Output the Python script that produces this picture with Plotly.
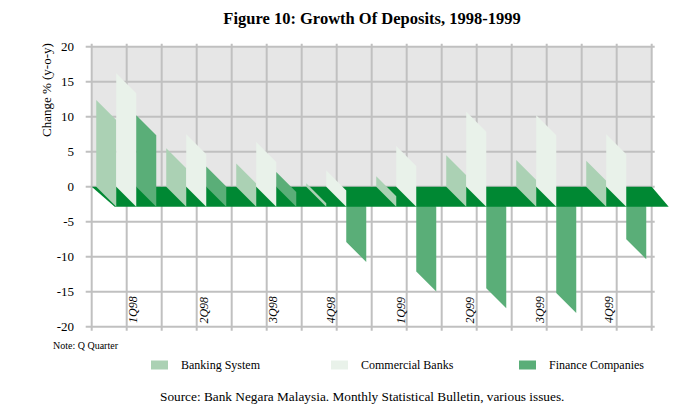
import plotly.graph_objects as go

# ---------------- data ----------------
quarters = ["1Q98", "2Q98", "3Q98", "4Q98", "1Q99", "2Q99", "3Q99", "4Q99"]
series_names = ["Banking System", "Commercial Banks", "Finance Companies"]
banking = [12.4, 5.5, 3.3, 0.5, 1.5, 4.5, 3.8, 3.7]
commercial = [16.2, 7.5, 6.4, 2.3, 5.8, 10.7, 10.2, 7.5]
finance = [10.2, 2.9, 2.1, -7.9, -12.1, -14.5, -15.2, -7.5]
y_ticks = [20, 15, 10, 5, 0, -5, -10, -15, -20]

# ---------------- style / geometry ----------------
colors = ["#abd1b4", "#e9f2ea", "#5aae78"]
floor_color = "#008833"
wall_color = "#e6e6e6"
grid_color = "#c0c0c0"
FONT = "Liberation Serif"

W, H = 690, 405
ML, MR, MT, MB = 80, 10, 40, 65
PW, PH = W - ML - MR, H - MT - MB
X0PX, XUNIT = 91.7, 35.0          # pixel of x=0, pixels per x unit (grid cell)
Y0PX, YUNIT = 186.7, 7.0          # pixel of y=0, pixels per y unit
xr = [(ML - X0PX) / XUNIT, (ML + PW - X0PX) / XUNIT]
yr = [(Y0PX - (MT + PH)) / YUNIT, (Y0PX - MT) / YUNIT]

n_cells = 2 * len(quarters)
bar_w = 20 / XUNIT                # bar width (x units)
depth = 20 / YUNIT                # oblique drop (y units)
group_pad = 0.13
label_shift = [0.18, 0.2, 0.18, -0.18, -0.17, -0.2, -0.19, -0.22]


def px2paper_x(px):
    return (px - ML) / PW


def px2paper_y(py):
    return (MT + PH - py) / PH


fig = go.Figure()


def polys(values, j, sign):
    xs, ys = [], []
    for k, v in enumerate(values):
        if (v >= 0) != (sign > 0):
            continue
        x0 = 2 * k + group_pad + j * bar_w
        xs += [x0, x0 + bar_w, x0 + bar_w, x0, x0, None]
        ys += [v, v - depth, -depth, 0, v, None]
    return xs, ys


all_series = [banking, commercial, finance]

# negative bars (behind the floor)
for j, vals in enumerate(all_series):
    xs, ys = polys(vals, j, -1)
    if xs:
        fig.add_trace(go.Scatter(x=xs, y=ys, mode="lines", fill="toself",
                                 fillcolor=colors[j], line=dict(width=0),
                                 hoverinfo="skip", showlegend=False))

# floor slab at zero
fx = [0, n_cells, n_cells + 17 / XUNIT, 23 / XUNIT, 0]
fy = [0, 0, -depth, -depth, 0]
fig.add_trace(go.Scatter(x=fx, y=fy, mode="lines", fill="toself",
                         fillcolor=floor_color, line=dict(width=0),
                         hoverinfo="skip", showlegend=False))

# positive bars
for j, vals in enumerate(all_series):
    xs, ys = polys(vals, j, 1)
    if xs:
        fig.add_trace(go.Scatter(x=xs, y=ys, mode="lines", fill="toself",
                                 fillcolor=colors[j], line=dict(width=0),
                                 hoverinfo="skip", showlegend=False))

shapes = []
# back wall above zero
shapes.append(dict(type="rect", xref="x", yref="y", x0=0, x1=n_cells, y0=0, y1=max(y_ticks),
                   fillcolor=wall_color, line=dict(width=0), layer="below"))
# gridlines
for t in y_ticks:
    shapes.append(dict(type="line", xref="x", yref="y", x0=-6 / XUNIT, x1=n_cells + 3 / XUNIT,
                       y0=t, y1=t, line=dict(color=grid_color, width=2), layer="below"))
for i in range(n_cells + 1):
    shapes.append(dict(type="line", xref="x", yref="y", x0=i, x1=i,
                       y0=min(y_ticks) - 4 / YUNIT, y1=max(y_ticks) + 3 / YUNIT,
                       line=dict(color=grid_color, width=2), layer="below"))

annotations = []
# category labels
for k, q in enumerate(quarters):
    annotations.append(dict(x=2 * k + 1 + label_shift[k], y=-17.6, xref="x", yref="y",
                            text=q, textangle=-90, showarrow=False,
                            xanchor="center", yanchor="middle",
                            font=dict(family=FONT, size=12, color="black", style="italic")))

# y-axis title
annotations.append(dict(x=px2paper_x(47), y=px2paper_y(90), xref="paper", yref="paper",
                        text="Change % (y-o-y)", textangle=-90, showarrow=False,
                        xanchor="center", yanchor="middle",
                        font=dict(family=FONT, size=13, color="black")))
# note
annotations.append(dict(x=px2paper_x(51), y=px2paper_y(345), xref="paper", yref="paper",
                        text="Note: Q Quarter", showarrow=False, xanchor="left", yanchor="middle",
                        font=dict(family=FONT, size=10, color="black")))
# legend (manual)
leg_x = [151, 331, 519]
for j, name in enumerate(series_names):
    shapes.append(dict(type="rect", xref="paper", yref="paper",
                       x0=px2paper_x(leg_x[j]), x1=px2paper_x(leg_x[j] + 17),
                       y0=px2paper_y(369.5), y1=px2paper_y(360.5),
                       fillcolor=colors[j], line=dict(width=0)))
    annotations.append(dict(x=px2paper_x(leg_x[j] + 28), y=px2paper_y(365), xref="paper",
                            yref="paper", text=name, showarrow=False, xanchor="left",
                            yanchor="middle",
                            font=dict(family=FONT, size=12, color="black")))
# source
annotations.append(dict(x=px2paper_x(362), y=px2paper_y(396), xref="paper", yref="paper",
                        text="Source: Bank Negara Malaysia. Monthly Statistical Bulletin, various issues.",
                        showarrow=False, xanchor="center", yanchor="middle",
                        font=dict(family=FONT, size=13.3, color="black")))

fig.update_layout(
    width=W, height=H,
    margin=dict(l=ML, r=MR, t=MT, b=MB),
    paper_bgcolor="white", plot_bgcolor="white",
    title=dict(text="<b>Figure 10: Growth Of Deposits, 1998-1999</b>",
               x=372 / W, xanchor="center", y=1 - 18 / H, yanchor="middle",
               font=dict(family=FONT, size=16.5, color="black")),
    xaxis=dict(range=xr, showgrid=False, zeroline=False, showticklabels=False,
               ticks="", fixedrange=True),
    yaxis=dict(range=yr, showgrid=False, zeroline=False, tickmode="array",
               tickvals=y_ticks, ticktext=[str(t) for t in y_ticks], ticks="",
               ticklabelstandoff=5,
               tickfont=dict(family=FONT, size=13, color="black"), fixedrange=True),
    shapes=shapes, annotations=annotations, showlegend=False,
)

fig.write_html("out.html")
